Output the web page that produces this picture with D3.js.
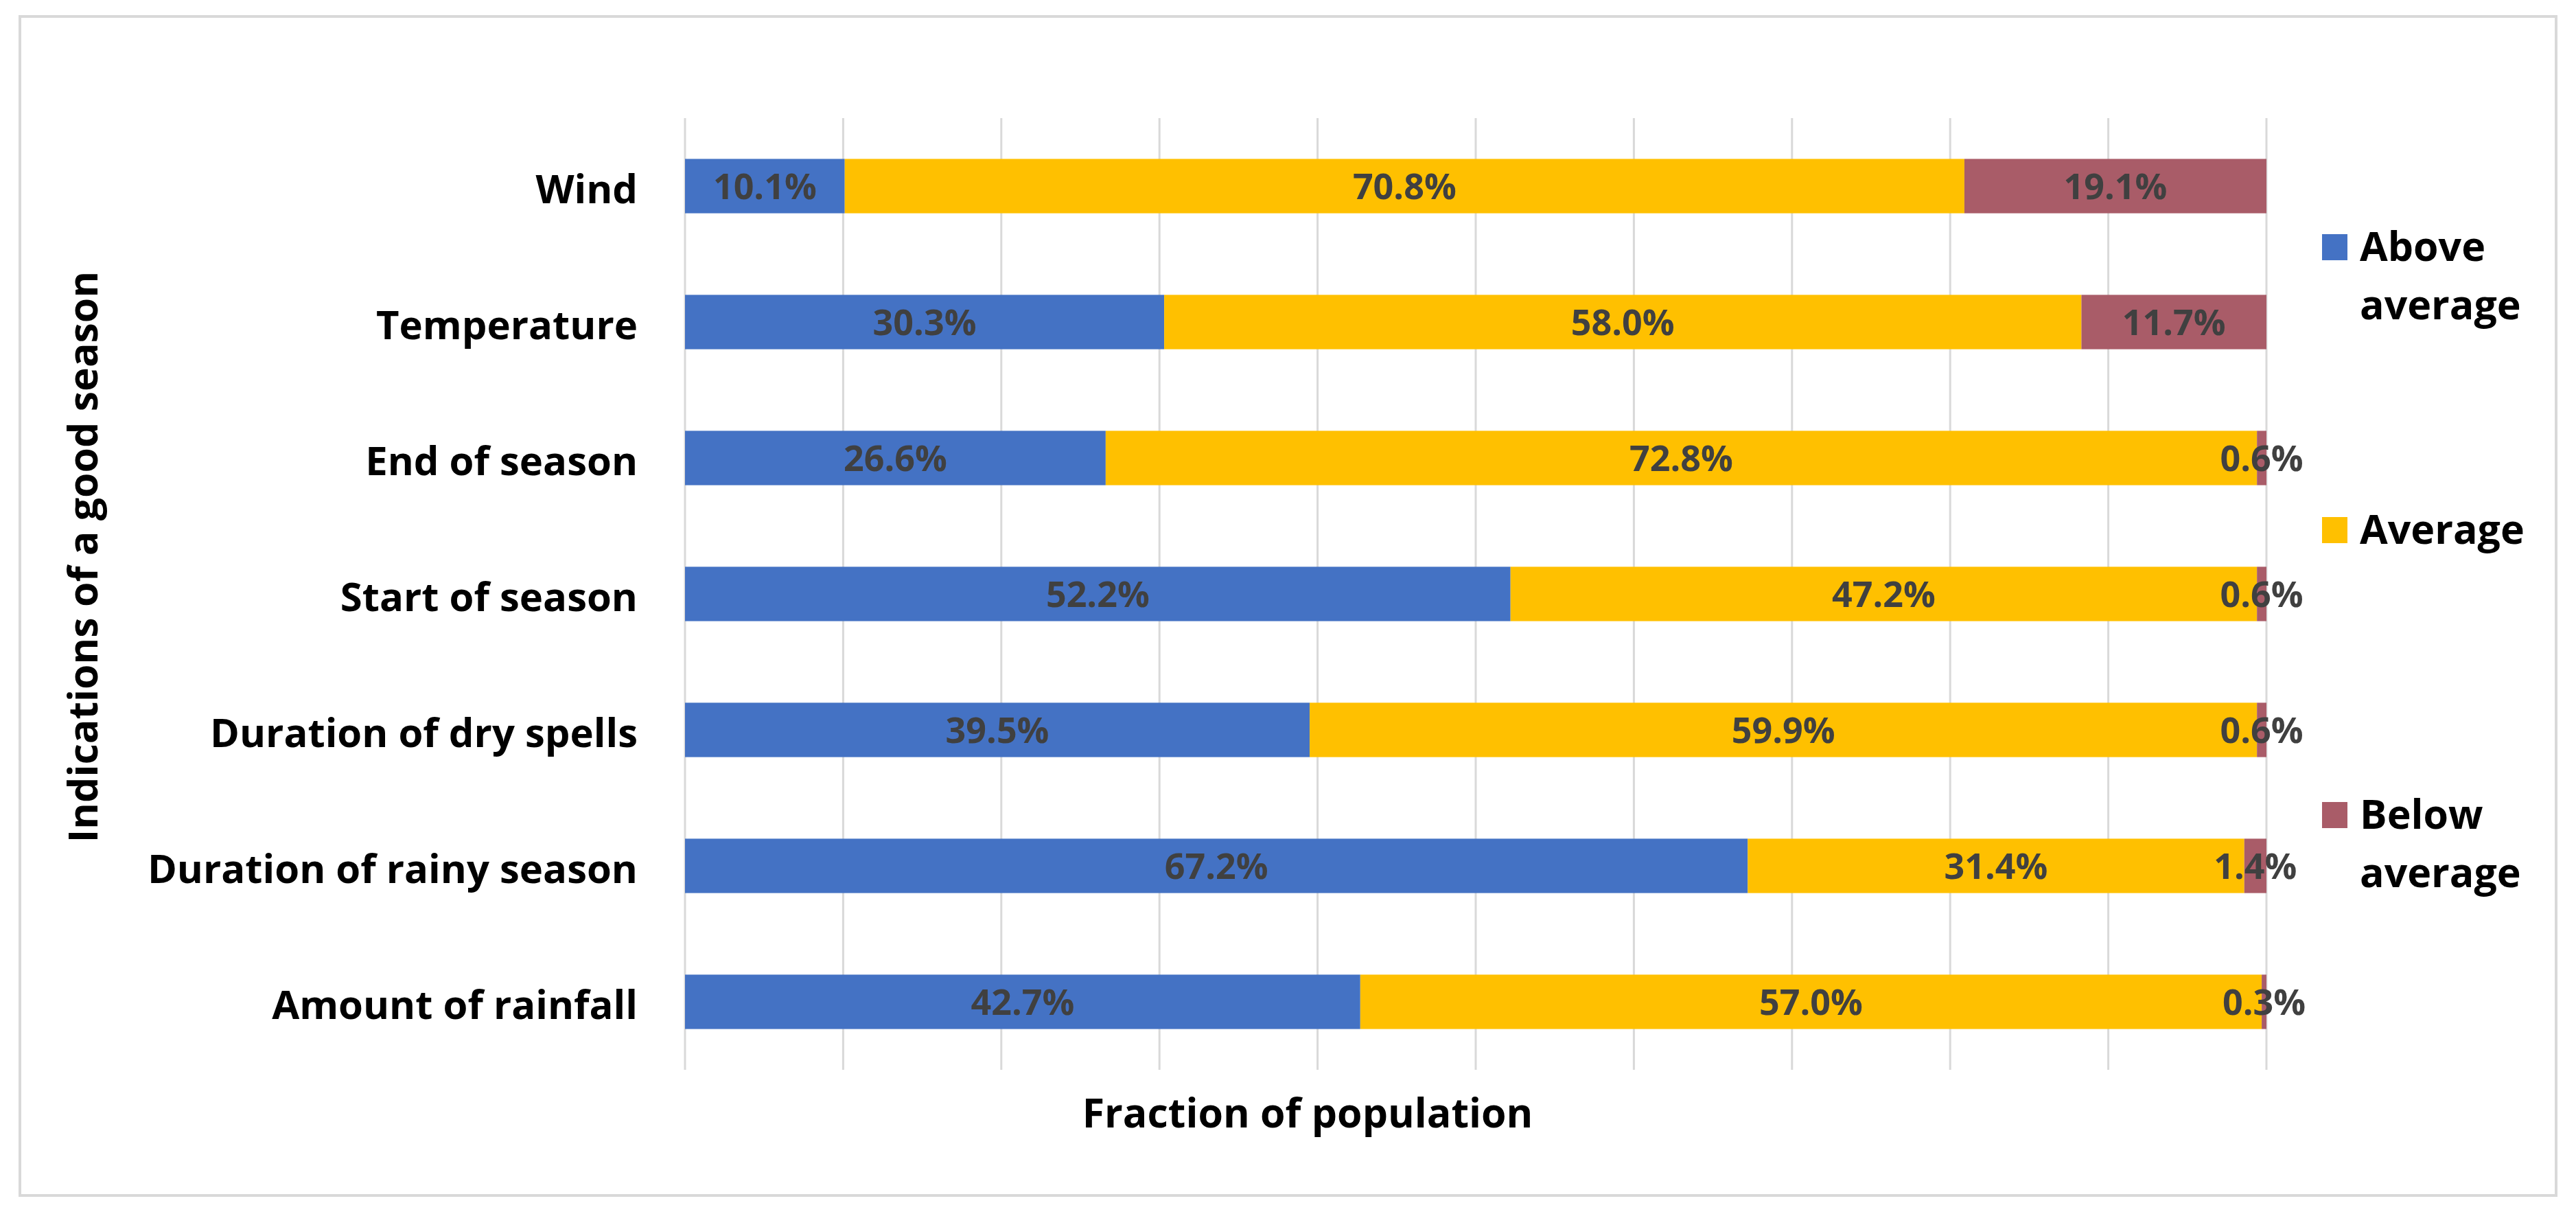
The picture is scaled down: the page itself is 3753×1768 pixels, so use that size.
<!DOCTYPE html>
<html>
<head>
<meta charset="utf-8">
<script src="https://cdn.jsdelivr.net/npm/d3@7"></script>
<style>
  html, body { margin: 0; padding: 0; background: #ffffff; }
  svg { display: block; }
  text { font-family: "Open Sans", "Noto Sans", sans-serif; }
</style>
</head>
<body>
<svg id="chart" width="3753" height="1768"></svg>
<script>
// ---- data ----
const categories = ["Wind", "Temperature", "End of season", "Start of season",
  "Duration of dry spells", "Duration of rainy season", "Amount of rainfall"];
const seriesNames = ["Above average", "Average", "Below average"];
const aboveAverage = [10.1, 30.3, 26.6, 52.2, 39.5, 67.2, 42.7];
const average      = [70.8, 58.0, 72.8, 47.2, 59.9, 31.4, 57.0];
const belowAverage = [19.1, 11.7, 0.6, 0.6, 0.6, 1.4, 0.3];
const xTicks = [0, 10, 20, 30, 40, 50, 60, 70, 80, 90, 100];
const yTitle = "Indications of a good season";
const xTitle = "Fraction of population";

const colors = ["#4472C4", "#FFC000", "#A95C68"];
const seriesValues = [aboveAverage, average, belowAverage];

const rows = categories.map((c, i) => ({
  cat: c,
  "Above average": aboveAverage[i],
  "Average": average[i],
  "Below average": belowAverage[i]
}));

const svg = d3.select("#chart");

// outer border
svg.append("rect")
  .attr("x", 29).attr("y", 24).attr("width", 3695).attr("height", 1717)
  .attr("fill", "#ffffff").attr("stroke", "#D9D9D9").attr("stroke-width", 4);

const x = d3.scaleLinear().domain([0, 100]).range([998, 3302]);
const y = d3.scaleBand().domain(categories).range([172, 1558])
  .paddingInner(0.6).paddingOuter(0.3);

// gridlines
svg.append("g").selectAll("line").data(xTicks).join("line")
  .attr("x1", d => x(d)).attr("x2", d => x(d))
  .attr("y1", 172).attr("y2", 1558)
  .attr("stroke", "#D9D9D9").attr("stroke-width", 3);

// stacked bars
const stack = d3.stack().keys(seriesNames);
const stacked = stack(rows);

const fs = 52;
stacked.forEach((layer, si) => {
  const g = svg.append("g");
  g.selectAll("rect").data(layer).join("rect")
    .attr("x", d => x(d[0]))
    .attr("width", d => x(d[1]) - x(d[0]))
    .attr("y", d => y(d.data.cat))
    .attr("height", y.bandwidth())
    .attr("fill", colors[si]);
});
stacked.forEach((layer, si) => {
  svg.append("g").selectAll("text").data(layer).join("text")
    .attr("x", d => (x(d[0]) + x(d[1])) / 2)
    .attr("y", d => y(d.data.cat) + y.bandwidth() / 2 + fs * 0.37)
    .attr("text-anchor", "middle")
    .attr("font-size", fs)
    .attr("font-weight", 700)
    .attr("fill", "#404040")
    .text(d => (d[1] - d[0]).toFixed(1) + "%");
});

// category axis
const yAxis = d3.axisLeft(y).tickSize(0).tickPadding(0);
const ya = svg.append("g").attr("transform", "translate(929,0)").call(yAxis);
ya.select(".domain").remove();
ya.selectAll("text")
  .attr("font-size", 58).attr("font-weight", 700).attr("fill", "#000000")
  .attr("font-family", "'Open Sans', sans-serif")
  .attr("dy", null).attr("dominant-baseline", "central")
  .attr("dy", "0.05em");

// axis titles
svg.append("text")
  .attr("transform", "translate(142,811) rotate(-90)")
  .attr("text-anchor", "middle")
  .attr("font-size", 59).attr("font-weight", 700).attr("fill", "#000")
  .text(yTitle);

svg.append("text")
  .attr("x", 1905).attr("y", 1642)
  .attr("text-anchor", "middle")
  .attr("font-size", 59).attr("font-weight", 700).attr("fill", "#000")
  .text(xTitle);

// legend
const legendY = [360, 772, 1187];
const legendLines = [["Above", "average"], ["Average"], ["Below", "average"]];
const lg = svg.append("g");
seriesNames.forEach((s, i) => {
  lg.append("rect")
    .attr("x", 3383).attr("y", legendY[i] - 19)
    .attr("width", 37).attr("height", 38)
    .attr("fill", colors[i]);
  const t = lg.append("text")
    .attr("x", 3438).attr("y", legendY[i] + 20)
    .attr("font-size", 59).attr("font-weight", 700).attr("fill", "#000");
  legendLines[i].forEach((ln, j) => {
    t.append("tspan").attr("x", 3438).attr("dy", j === 0 ? 0 : 85).text(ln);
  });
});
</script>
</body>
</html>
